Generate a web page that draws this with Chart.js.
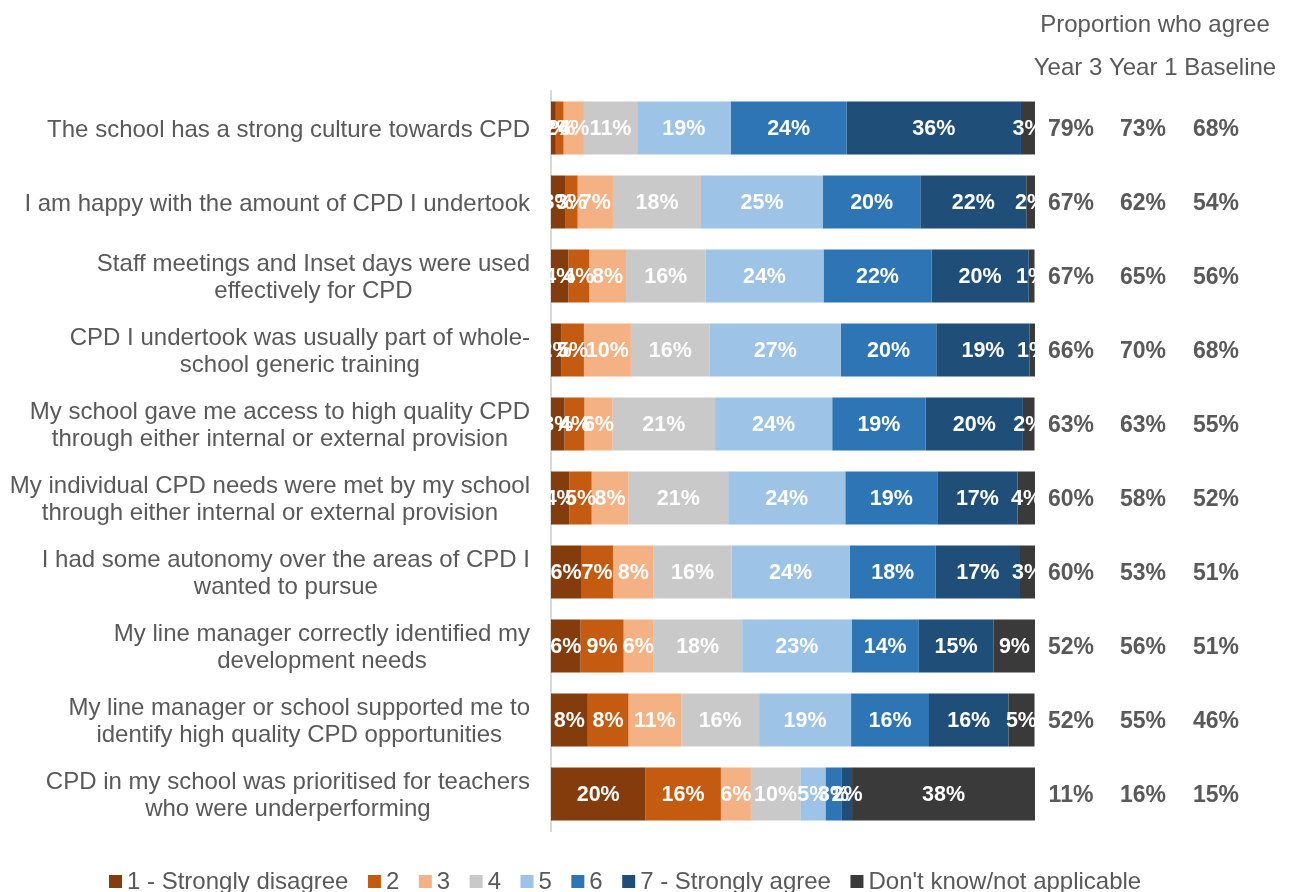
<!DOCTYPE html>
<html>
<head>
<meta charset="utf-8">
<script src="https://cdn.jsdelivr.net/npm/chart.js@4/dist/chart.umd.min.js"></script>
<style>
html,body{margin:0;padding:0;background:#fff;}
#wrap{position:relative;width:1291px;height:892px;}
</style>
</head>
<body>
<div id="wrap"><canvas id="c" width="1291" height="892"></canvas></div>
<script>
const categories = [
  ["The school has a strong culture towards CPD"],
  ["I am happy with the amount of CPD I undertook"],
  ["Staff meetings and Inset days were used", "effectively for CPD"],
  ["CPD I undertook was usually part of whole-", "school generic training"],
  ["My school gave me access to high quality CPD", "through either internal or external provision"],
  ["My individual CPD needs were met by my school", "through either internal or external provision"],
  ["I had some autonomy over the areas of CPD I", "wanted to pursue"],
  ["My line manager correctly identified my", "development needs"],
  ["My line manager or school supported me to", "identify high quality CPD opportunities"],
  ["CPD in my school was prioritised for teachers", "who were underperforming"]
];
const seriesNames = ["1 - Strongly disagree","2","3","4","5","6","7 - Strongly agree","Don't know/not applicable"];
const stronglyDisagree = [1.0, 2.9, 3.6, 2.1, 2.8, 3.8, 6.2, 6.1, 7.6, 19.5];
const level2          = [1.6, 2.6, 4.3, 4.7, 4.1, 4.6, 6.6, 8.9, 8.4, 15.6];
const level3          = [4.2, 7.3, 7.6, 9.7, 5.8, 7.6, 8.4, 6.1, 10.9, 6.2];
const level4          = [11.0, 18.2, 16.4, 16.3, 21.2, 20.6, 16.1, 18.4, 16.1, 10.2];
const level5          = [19.3, 25.2, 24.4, 27.1, 24.2, 24.2, 24.4, 22.6, 19.0, 5.2];
const level6          = [24.0, 20.1, 22.3, 19.7, 19.3, 19.0, 17.8, 13.9, 16.1, 3.4];
const stronglyAgree   = [36.0, 21.9, 20.1, 19.3, 20.1, 16.6, 17.4, 15.4, 16.4, 2.1];
const dontKnow        = [2.9, 1.8, 1.2, 1.2, 2.4, 3.7, 3.1, 8.7, 5.4, 37.8];
const year3    = ["79%","67%","67%","66%","63%","60%","60%","52%","52%","11%"];
const year1    = ["73%","62%","65%","70%","63%","58%","53%","56%","55%","16%"];
const baseline = ["68%","54%","56%","68%","55%","52%","51%","51%","46%","15%"];
const columnHeaders = ["Year 3 Year 1 Baseline"];
const headerTitle = "Proportion who agree";

const colors = ["#843C0C","#C55A11","#F4B183","#C9C9C9","#9DC3E6","#2E75B6","#1F4E79","#3A3A3A"];
const seriesData = [stronglyDisagree, level2, level3, level4, level5, level6, stronglyAgree, dontKnow];
const FONT = "'Liberation Sans', Arial, sans-serif";
const TEXT = "#595959";

const overlay = {
  id: 'overlay',
  afterDatasetsDraw(chart) {
    const ctx = chart.ctx;
    ctx.save();
    ctx.font = "bold 21.5px " + FONT;
    ctx.fillStyle = "#ffffff";
    ctx.textAlign = "center";
    ctx.textBaseline = "middle";
    chart.data.datasets.forEach((ds, di) => {
      const meta = chart.getDatasetMeta(di);
      meta.data.forEach((bar, i) => {
        const v = ds.data[i];
        const cx = (bar.x + bar.base) / 2;
        ctx.fillText(Math.round(v) + "%", cx, bar.y + 1);
      });
    });
    ctx.restore();
  },
  afterDraw(chart) {
    const ctx = chart.ctx;
    const ys = chart.scales.y;
    ctx.save();
    // category labels
    ctx.font = "24px " + FONT;
    ctx.fillStyle = TEXT;
    ctx.textAlign = "center";
    ctx.textBaseline = "middle";
    const lh = 27;
    categories.forEach((lines, i) => {
      const y = ys.getPixelForValue(i) + 2;
      const w = Math.max(...lines.map(l => ctx.measureText(l).width));
      const cx = 530 - w / 2;
      const y0 = y - (lines.length - 1) * lh / 2;
      lines.forEach((l, k) => ctx.fillText(l, cx, y0 + k * lh));
    });
    // right columns
    ctx.font = "bold 23px " + FONT;
    const cols = [[year3, 1071], [year1, 1143], [baseline, 1216]];
    categories.forEach((_, i) => {
      const y = ys.getPixelForValue(i);
      cols.forEach(([arr, x]) => ctx.fillText(arr[i], x, y + 2));
    });
    // headers
    ctx.font = "24px " + FONT;
    ctx.fillText(headerTitle, 1155, 25);
    ctx.fillText(columnHeaders[0], 1155, 68);
    // legend
    ctx.textAlign = "left";
    let x = 109;
    const ly = 882;
    seriesNames.forEach((n, i) => {
      ctx.fillStyle = colors[i];
      ctx.fillRect(x, ly - 7, 13, 13);
      x += 18;
      ctx.fillStyle = TEXT;
      ctx.fillText(n, x, ly);
      x += ctx.measureText(n).width + 19.5;
    });
    ctx.restore();
  }
};

new Chart(document.getElementById('c'), {
  type: 'bar',
  data: {
    labels: categories.map(c => c.join(' ')),
    datasets: seriesNames.map((n, i) => ({
      label: n,
      data: seriesData[i],
      backgroundColor: colors[i],
      borderWidth: 0,
      categoryPercentage: 1,
      barPercentage: 0.716
    }))
  },
  options: {
    indexAxis: 'y',
    responsive: false,
    animation: false,
    layout: { padding: { top: 91, bottom: 61, left: 0, right: 256 } },
    plugins: { legend: { display: false }, tooltip: { enabled: false } },
    scales: {
      x: { stacked: true, min: 0, max: 100, display: false },
      y: {
        stacked: true,
        ticks: { display: false },
        grid: { display: false, drawTicks: false },
        border: { display: true, color: '#D9D9D9', width: 2 },
        afterFit(s) { s.width = 551; }
      }
    }
  },
  plugins: [overlay]
});
</script>
</body>
</html>
